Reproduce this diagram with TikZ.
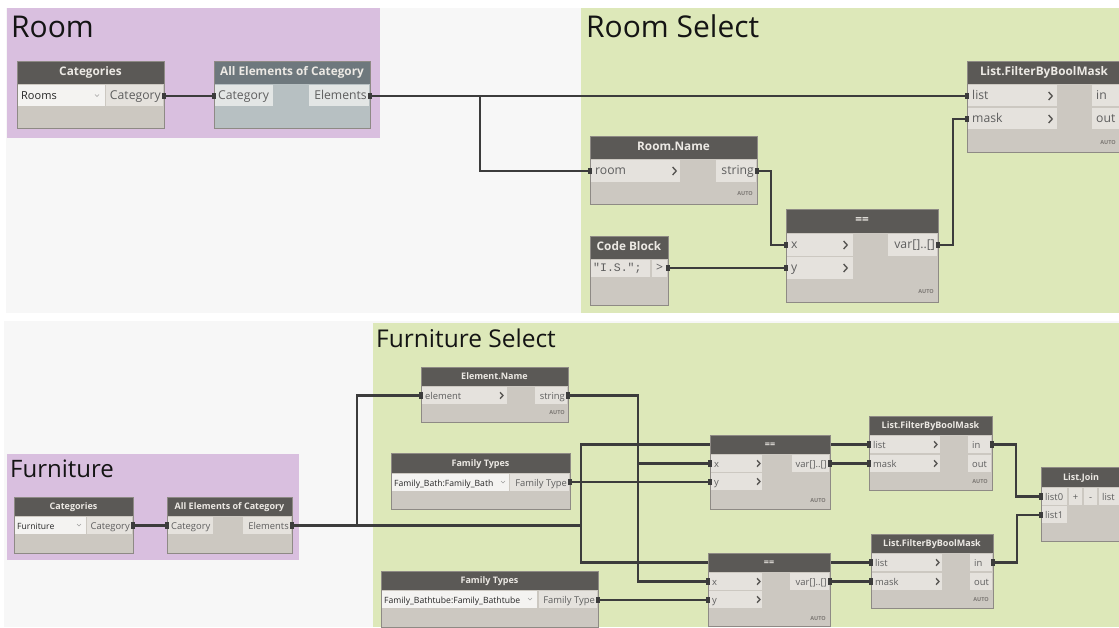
\documentclass[tikz,border=0pt]{standalone}
\usepackage{fontspec}
\setmainfont{Open Sans}
\newfontfamily\codefont{Liberation Mono}
\usetikzlibrary{fit,calc}

\definecolor{panelc}{HTML}{F7F7F7}
\definecolor{roomc}{HTML}{D9BFDF}
\definecolor{selc}{HTML}{DDE8B9}
\definecolor{hdrc}{HTML}{5B5956}
\definecolor{bodyc}{HTML}{CCC8C1}
\definecolor{portc}{HTML}{E5E2DD}
\definecolor{ddc}{HTML}{F4F3F1}
\definecolor{bordc}{HTML}{8E8A85}
\definecolor{ptxtc}{HTML}{5E5E5E}
\definecolor{ttlc}{HTML}{ECE9E4}
\definecolor{wirec}{HTML}{3C3C3C}
\definecolor{selhdr}{HTML}{6E787D}
\definecolor{selbody}{HTML}{B7C0C2}
\definecolor{selport}{HTML}{E3E6E5}
\definecolor{autoc}{HTML}{7D7975}

\pgfdeclarelayer{back}
\pgfdeclarelayer{wirelayer}
\pgfsetlayers{back,wirelayer,main}

\newcommand\portfont{\fontsize{12.2}{13}\selectfont}
\newcommand\hdfont{\bfseries\fontsize{11.8}{13}\selectfont}
\newcommand\ddfont{\fontsize{11}{12}\selectfont}
\newcommand\chs{4}

\tikzset{
  wire/.style={draw=wirec, line width=2.2pt},
  ptx/.style={text=ptxtc, inner sep=0pt, font=\portfont, text height=0.8em, text depth=0.05em},
  ddtx/.style={text=black!85, inner sep=0pt, anchor=west, font=\ddfont, text height=0.8em, text depth=0.05em},
  hd/.style={text=ttlc, inner sep=0pt, font=\hdfont, text height=0.75em, text depth=0.15em},
  grp/.style={text=black!92, inner sep=0pt, anchor=base west},
  autolbl/.style={text=autoc, inner sep=0pt, anchor=east, font=\bfseries\fontsize{5.5}{6}\selectfont},
  chev/.style={draw=hdrc, line width=1.4pt},
  ddchev/.style={draw=gray!75, line width=0.6pt},
}

% node frame: name, x1, y1, x2, y2, header bottom, title, header colour, body colour
\newcommand\dyn[9]{%
  \fill[#9] (#2,#3) rectangle (#4,#5);
  \fill[#8] (#2,#3) rectangle (#4,#6);
  \node[fit={(#2,#3) (#4,#5)}, inner sep=0pt, draw=bordc, line width=0.8pt] (#1) {};
  \node[hd] at ({(#2+#4)/2},{(#3+#6)/2}) {#7};}
\newcommand\cell[5][portc]{\fill[#1] (#2,#3) rectangle (#4,#5);}
\newcommand\ltxt[3]{\node[ptx, anchor=west] at (#1,#2) {#3};}
\newcommand\rtxt[3]{\node[ptx, anchor=east] at (#1,#2) {#3};}
\newcommand\chevr[2]{\draw[chev] ({#1-\chs*0.6},{#2-\chs}) -- ({#1+\chs*0.3},#2) -- ({#1-\chs*0.6},{#2+\chs});}
\newcommand\ddv[2]{\draw[ddchev] ({#1-2},{#2-1}) -- (#1,{#2+1}) -- ({#1+2},{#2-1});}
\newcommand\autot[2]{\node[autolbl] at (#1,#2) {AUTO};}
\newcommand\tab[1]{\fill[wirec] ([xshift=-2pt,yshift=-3.2pt]#1) rectangle ([xshift=2pt,yshift=3.2pt]#1);}

\begin{document}
\begin{tikzpicture}[x=1pt,y=-1pt]
\useasboundingbox (0,0) rectangle (1119,628);
\clip (0,0) rectangle (1119,628);

\begin{pgfonlayer}{back}
  \fill[white] (0,0) rectangle (1119,628);
  % upper canvas with its two groups
  \fill[panelc] (6,8) rectangle (1119,313);
  \fill[roomc] (7,8) rectangle (380,138);
  \fill[selc] (581,8) rectangle (1119,313);
  % lower canvas with its two groups
  \fill[panelc] (4,321) rectangle (1119,627);
  \fill[selc] (373,323) rectangle (1119,627);
  \fill[roomc] (7,454) rectangle (299,560);
\end{pgfonlayer}

% group titles
\node[grp, font=\fontsize{30}{32}\selectfont] (gRoom) at (11,38) {Room};
\node[grp, font=\fontsize{30}{32}\selectfont] (gRoomSel) at (586,38) {Room Select};
\node[grp, font=\fontsize{24.5}{26}\selectfont] (gFurnSel) at (376,347) {Furniture Select};
\node[grp, font=\fontsize{24}{26}\selectfont] (gFurn) at (10,477) {Furniture};

% ---------------- Room ----------------
\dyn{catR}{17}{61}{164}{128}{84}{Categories}{hdrc}{bodyc}
\cell[ddc]{18}{85}{105}{106}
\node[ddtx] at (21,95.5) {Rooms};
\ddv{97}{95.5}
\cell{106}{85}{163}{106}
\rtxt{161}{96}{Category}
\coordinate (catR-o) at (164,96);

\dyn{aeR}{214}{61}{370}{128}{84}{All Elements of Category}{selhdr}{selbody}
\cell[selport]{215}{85}{273}{106} \ltxt{218}{96}{Category}
\cell[selport]{309}{85}{369}{106} \rtxt{367}{96}{Elements}
\coordinate (aeR-i) at (214,96);
\coordinate (aeR-o) at (370,96);

% ---------------- Room Select ----------------
\dyn{rn}{590}{136}{757}{204}{159}{Room.Name}{hdrc}{bodyc}
\cell{591}{160}{680}{182} \ltxt{595}{171}{room} \chevr{675}{171}
\cell{716}{160}{756}{182} \rtxt{754}{171}{string}
\autot{753}{194}
\coordinate (rn-i) at (590,171);
\coordinate (rn-o) at (757,171);

\dyn{cb}{590}{236}{668}{305}{259}{Code Block}{hdrc}{bodyc}
\cell{591}{260}{650}{277}
\node[inner sep=0pt, anchor=west, text=ptxtc, font=\codefont\fontsize{11.5}{12}\selectfont] at (593,268.5) {"I.S.";};
\cell{652}{260}{667}{277}
\node[ptx, anchor=center] at (659.5,268) {>};
\coordinate (cb-o) at (668,268);

\dyn{eqR}{786}{209}{938}{302}{233}{==}{hdrc}{bodyc}
\cell{787}{234}{853}{256} \ltxt{791}{245}{x} \chevr{846}{245}
\cell{787}{257}{853}{279} \ltxt{791}{268}{y} \chevr{846}{268}
\cell{888}{234}{937}{256} \rtxt{935}{245}{var[]..[]}
\autot{934}{292}
\coordinate (eqR-x) at (786,245);
\coordinate (eqR-y) at (786,268);
\coordinate (eqR-o) at (938,245);

\dyn{fR}{967}{61}{1121}{152}{84}{List.FilterByBoolMask}{hdrc}{bodyc}
\cell{968}{85}{1057}{106} \ltxt{972}{96}{list} \chevr{1051}{96}
\cell{968}{108}{1057}{129} \ltxt{972}{119}{mask} \chevr{1051}{119}
\cell{1092}{85}{1121}{106} \ltxt{1096}{96}{in}
\cell{1092}{108}{1121}{129} \ltxt{1096}{119}{out}
\autot{1116}{143}
\coordinate (fR-l) at (967,96);
\coordinate (fR-m) at (967,119);

% ---------------- Furniture (smaller zoom) ----------------
\renewcommand\portfont{\fontsize{9.4}{10}\selectfont}
\renewcommand\hdfont{\bfseries\fontsize{9}{10}\selectfont}
\renewcommand\ddfont{\fontsize{8.6}{9}\selectfont}
\renewcommand\chs{3.2}

\dyn{catF}{14}{497}{133}{553}{516}{Categories}{hdrc}{bodyc}
\cell[ddc]{15}{517}{86}{534}
\node[ddtx] at (17,525.5) {Furniture};
\ddv{79}{525}
\cell{87}{517}{132}{534} \rtxt{130}{525.5}{Category}
\coordinate (catF-o) at (133,525.5);

\dyn{aeF}{167}{497}{292}{553}{516}{All Elements of Category}{hdrc}{bodyc}
\cell{168}{517}{213}{534} \ltxt{171}{525.5}{Category}
\cell{243}{517}{291}{534} \rtxt{289}{525.5}{Elements}
\coordinate (aeF-i) at (167,525.5);
\coordinate (aeF-o) at (292,525.5);

% ---------------- Furniture Select ----------------
\dyn{en}{421}{367}{568}{422}{386}{Element.Name}{hdrc}{bodyc}
\cell{422}{387}{507}{404} \ltxt{425}{395.5}{element} \chevr{502}{395.5}
\cell{535}{387}{567}{404} \rtxt{565}{395.5}{string}
\autot{565}{413}
\coordinate (en-i) at (421,395.5);
\coordinate (en-o) at (568,395.5);

\dyn{ft1}{391}{453}{570}{509}{473}{Family Types}{hdrc}{bodyc}
\cell[ddc]{392}{474}{509}{491}
\node[ddtx] at (394,482.5) {Family\_Bath:Family\_Bath};
\ddv{503}{482}
\cell{510}{474}{569}{491} \rtxt{567}{482.5}{Family Type}
\coordinate (ft1-o) at (570,482);

\dyn{eq1}{710}{435}{830}{509}{454}{==}{hdrc}{bodyc}
\cell{711}{455}{762}{472} \ltxt{714}{463.5}{x} \chevr{759}{463.5}
\cell{711}{473}{762}{490} \ltxt{714}{481.5}{y} \chevr{759}{481.5}
\cell{792}{455}{829}{472} \rtxt{827}{463.5}{var[]..[]}
\autot{826}{501}
\coordinate (eq1-x) at (710,463.5);
\coordinate (eq1-y) at (710,482);
\coordinate (eq1-o) at (830,463.5);

\dyn{f1}{869}{416}{992}{490}{435}{List.FilterByBoolMask}{hdrc}{bodyc}
\cell{870}{436}{940}{453} \ltxt{873}{444.5}{list} \chevr{936}{444.5}
\cell{870}{455}{940}{472} \ltxt{873}{463.5}{mask} \chevr{936}{463.5}
\cell{968}{436}{991}{453} \ltxt{972}{444.5}{in}
\cell{968}{455}{991}{472} \ltxt{972}{463.5}{out}
\autot{988}{482}
\coordinate (f1-l) at (869,444.5);
\coordinate (f1-m) at (869,463.5);
\coordinate (f1-o) at (992,444.5);

\dyn{eq2}{708}{553}{830}{626}{572}{==}{hdrc}{bodyc}
\cell{709}{573}{762}{590} \ltxt{712}{581.5}{x} \chevr{759}{581.5}
\cell{709}{591}{762}{608} \ltxt{712}{599.5}{y} \chevr{759}{599.5}
\cell{790}{573}{829}{590} \rtxt{827}{581.5}{var[]..[]}
\autot{826}{619}
\coordinate (eq2-x) at (708,581.5);
\coordinate (eq2-y) at (708,600);
\coordinate (eq2-o) at (830,581.5);

\dyn{f2}{871}{534}{993}{608}{553}{List.FilterByBoolMask}{hdrc}{bodyc}
\cell{872}{554}{942}{571} \ltxt{875}{562.5}{list} \chevr{938}{562.5}
\cell{872}{573}{942}{590} \ltxt{875}{581.5}{mask} \chevr{938}{581.5}
\cell{970}{554}{992}{571} \ltxt{974}{562.5}{in}
\cell{970}{573}{992}{590} \ltxt{974}{581.5}{out}
\autot{989}{600}
\coordinate (f2-l) at (871,562.5);
\coordinate (f2-m) at (871,581.5);
\coordinate (f2-o) at (993,562.5);

\dyn{ft2}{381}{571}{598}{627}{590}{Family Types}{hdrc}{bodyc}
\cell[ddc]{382}{591}{537}{608}
\node[ddtx] at (384,599.5) {Family\_Bathtube:Family\_Bathtube};
\ddv{530}{599}
\cell{539}{591}{597}{608} \rtxt{595}{599.5}{Family Type}
\coordinate (ft2-o) at (598,600);

\dyn{lj}{1041}{467}{1121}{541}{487}{List.Join}{hdrc}{bodyc}
\cell{1042}{488}{1067}{505} \ltxt{1045}{496.5}{list0}
\cell{1069}{488}{1082}{505} \node[ptx, anchor=center] at (1075.5,496.5) {+};
\cell{1084}{488}{1097}{505} \node[ptx, anchor=center] at (1090.5,496.5) {-};
\cell{1099}{488}{1121}{505} \ltxt{1102}{496.5}{list}
\cell{1042}{506}{1067}{523} \ltxt{1045}{514.5}{list1}
\coordinate (lj-0) at (1041,496.5);
\coordinate (lj-1) at (1041,515);

% ---------------- wires ----------------
\begin{pgfonlayer}{wirelayer}
  \draw[wire] (catR-o) -- (aeR-i);
  \draw[wire] (aeR-o) -- (fR-l);
  \draw[wire] (aeR-o) -- ++(110,0) |- (rn-i);
  \draw[wire] (rn-o) -- ++(14,0) |- (eqR-x);
  \draw[wire] (cb-o) -- (eqR-y);
  \draw[wire] (eqR-o) -- ++(15,0) |- (fR-m);

  \draw[wire] (catF-o) -- (aeF-i);
  \draw[wire] (aeF-o) -- ++(65,0) |- (en-i);
  \draw[wire] (aeF-o) -- ++(289,0) |- (f1-l);
  \draw[wire] (aeF-o) -- ++(289,0) |- (f2-l);
  \draw[wire] (en-o) -- ++(70,0) |- (eq1-x);
  \draw[wire] (en-o) -- ++(70,0) |- (eq2-x);
  \draw[wire] (ft1-o) -- (eq1-y);
  \draw[wire] (ft2-o) -- (eq2-y);
  \draw[wire] (eq1-o) -- (f1-m);
  \draw[wire] (eq2-o) -- (f2-m);
  \draw[wire] (f1-o) -- ++(24,0) |- (lj-0);
  \draw[wire] (f2-o) -- ++(24,0) |- (lj-1);
\end{pgfonlayer}

% port tabs where wires attach
\foreach \p in {catR-o,aeR-i,aeR-o,rn-i,rn-o,cb-o,eqR-x,eqR-y,eqR-o,fR-l,fR-m,
  catF-o,aeF-i,aeF-o,en-i,en-o,ft1-o,ft2-o,eq1-x,eq1-y,eq1-o,eq2-x,eq2-y,eq2-o,
  f1-l,f1-m,f1-o,f2-l,f2-m,f2-o,lj-0,lj-1}{\tab{\p}}
\end{tikzpicture}
\end{document}
